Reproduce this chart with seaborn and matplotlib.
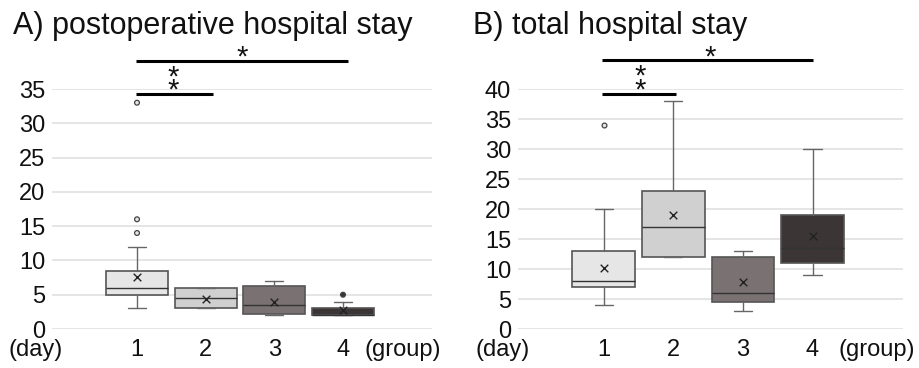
import matplotlib
matplotlib.use("Agg")
import matplotlib.pyplot as plt
import matplotlib.transforms as mtransforms
import seaborn as sns
import pandas as pd

# ---------------- data ----------------
groups = [1, 2, 3, 4]
group_labels = ["1", "2", "3", "4"]

# A) postoperative hospital stay (day)
a_whislo = [3, 3, 2, 2]
a_q1 = [5, 3, 2.2, 2]
a_med = [6, 4.5, 3.5, 2]
a_q3 = [8.5, 6, 6.2, 3]
a_whishi = [12, 6, 7, 4]
a_mean = [7.6, 4.4, 4.0, 2.7]
a_fliers = [[14, 16, 33], [], [], [5]]
a_ticks = [0, 5, 10, 15, 20, 25, 30, 35]

# B) total hospital stay (day)
b_whislo = [4, 12, 3, 9]
b_q1 = [7, 12, 4.5, 11]
b_med = [8, 17, 6, 13.5]
b_q3 = [13, 23, 12, 19]
b_whishi = [20, 38, 13, 30]
b_mean = [10.2, 19, 7.8, 15.5]
b_fliers = [[34], [], [], []]
b_ticks = [0, 5, 10, 15, 20, 25, 30, 35, 40]

box_colors = ["#e6e6e6", "#d0d0d0", "#7a7272", "#3b3535"]
edge_color = "#555555"

sns.set_theme(style="white")
plt.rcParams["font.family"] = ["Liberation Sans", "DejaVu Sans"]

W, H = 919, 368
fig = plt.figure(figsize=(W / 100, H / 100), dpi=100)


def px_axes(l, t, r, b):
    return fig.add_axes([l / W, 1 - b / H, (r - l) / W, (b - t) / H])


def draw_panel(ax, whislo, q1, med, q3, whishi, mean, fliers, ticks, ymax,
               xlim, title, title_x, sig):
    stats = []
    for i in range(len(groups)):
        stats.append(dict(whislo=whislo[i], q1=q1[i], med=med[i], q3=q3[i],
                          whishi=whishi[i], fliers=[], label=group_labels[i]))
    bp = ax.bxp(stats, positions=groups, widths=0.9, capwidths=0.26,
                showfliers=False, patch_artist=True,
                boxprops=dict(edgecolor=edge_color, linewidth=1.2),
                medianprops=dict(color="#333333", linewidth=1.0),
                whiskerprops=dict(color="#666666", linewidth=1.0),
                capprops=dict(color="#666666", linewidth=1.0))
    for patch, c in zip(bp["boxes"], box_colors):
        patch.set_facecolor(c)

    # outliers
    rows = []
    for g, fl in zip(groups, fliers):
        for v in fl:
            rows.append(dict(pos=g, value=v, group=str(g)))
    if rows:
        df = pd.DataFrame(rows)
        pal = {str(g): c for g, c in zip(groups, box_colors)}
        sns.scatterplot(data=df, x="pos", y="value", hue="group", palette=pal,
                        marker="o", s=12, edgecolor="#444444", linewidth=0.9,
                        legend=False, ax=ax, zorder=5, clip_on=False)
    # means
    sns.scatterplot(x=groups, y=mean, marker="x", color="#222222", s=30,
                    linewidth=1.0, ax=ax, zorder=6, legend=False)

    ax.set_xlim(*xlim)
    ax.set_ylim(0, ymax)
    ax.set_yticks(ticks)
    ax.set_yticklabels([str(t) for t in ticks])
    ax.set_xticks([])
    ax.set_xlabel("")
    ax.set_ylabel("")
    ax.yaxis.grid(True, color="#e0e0e0", linewidth=1.2)
    ax.set_axisbelow(True)
    for s in ax.spines.values():
        s.set_visible(False)
    ax.tick_params(axis="y", length=0, pad=5, labelsize=17, labelcolor="#111111")

    trans = mtransforms.blended_transform_factory(ax.transData, ax.transAxes)
    for g, lab in zip(groups, group_labels):
        ax.text(g, -0.088, lab, transform=trans, ha="center", va="center",
                fontsize=17, color="#111111")
    ax.text(sig["day_x"], -0.088, "(day)", transform=ax.transAxes, ha="center",
            va="center", fontsize=17, color="#111111")
    ax.text(sig["group_x"], -0.088, "(group)", transform=ax.transAxes,
            ha="center", va="center", fontsize=17, color="#111111")

    # significance bars
    for (x0, x1, y, sx, sys_) in sig["bars"]:
        ax.plot([x0, x1], [y, y], color="black", linewidth=2.2, clip_on=False,
                solid_capstyle="butt")
        for sy in sys_:
            ax.text(sx, sy, "*", ha="center", va="center", fontsize=21,
                    color="#111111", clip_on=False)

    fig.text(title_x / W, 1 - 34 / H, title, fontsize=22, ha="left",
             va="baseline", color="#111111")


axA = px_axes(52, 89, 432, 329)
draw_panel(axA, a_whislo, a_q1, a_med, a_q3, a_whishi, a_mean, a_fliers,
           a_ticks, 35, (-0.238, 5.296), "A) postoperative hospital stay", 13,
           dict(day_x=-0.042, group_x=0.924,
                bars=[(0.98, 2.1, 34.3, 1.52, [36.7, 34.8]),
                      (0.98, 4.07, 39.1, 2.53, [39.6])]))

axB = px_axes(518, 89, 903, 329)
draw_panel(axB, b_whislo, b_q1, b_med, b_q3, b_whishi, b_mean, b_fliers,
           b_ticks, 40, (-0.233, 5.30), "B) total hospital stay", 473,
           dict(day_x=-0.039, group_x=0.931,
                bars=[(0.98, 2.04, 39.1, 1.52, [42.0, 39.8]),
                      (0.98, 4.0, 44.8, 2.53, [45.3])]))

fig.savefig("out.png", dpi=100)
